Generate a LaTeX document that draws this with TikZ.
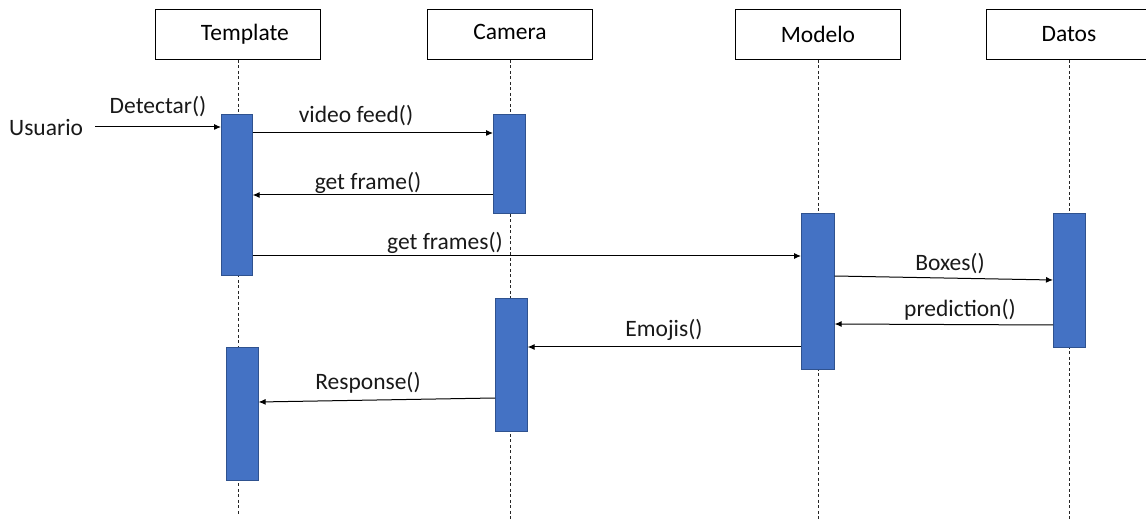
\documentclass[tikz,border=0pt]{standalone}
\usepackage{fontspec}
\setmainfont{Carlito}
\usetikzlibrary{arrows.meta}
\definecolor{barblue}{HTML}{4472C4}
\definecolor{barline}{HTML}{2F528F}
\definecolor{lineg}{HTML}{262626}
\begin{document}
\begin{tikzpicture}[x=1bp,y=-1bp,
  font=\fontsize{23.5bp}{28bp}\selectfont,
  head/.style={draw=black,line width=0.9bp,minimum width=165bp,minimum height=50bp,inner sep=0pt,anchor=north west},
  bar/.style={draw=barline,fill=barblue,line width=0.6bp,inner sep=0pt,anchor=north west},
  life/.style={draw=lineg,line width=0.9bp,dash pattern=on 3bp off 2.5bp},
  msg/.style={draw=black,line width=1bp,-{Latex[length=7bp,width=6bp]}},
  lbl/.style={inner sep=0pt,text=black!90}]
\useasboundingbox (0,0) rectangle (1146,521);
% headers
\node[head] (tpl) at (155,9) {\hspace{14bp}Template};
\node[head] (cam) at (427,9) {\raisebox{6bp}{Camera}};
\node[head] (mod) at (735,9) {Modelo};
\node[head] (dat) at (986,9) {Datos};
% lifeline ends
\coordinate (tplEnd) at (237,515);
\coordinate (camEnd) at (509,521);
\coordinate (modEnd) at (817,521);
\coordinate (datEnd) at (1069,521);
\draw[life] (tpl.south) -- (tpl.south |- tplEnd);
\draw[life] (cam.south) -- (cam.south |- camEnd);
\draw[life] (mod.south) -- (mod.south |- modEnd);
\draw[life] (dat.south) -- (dat.south |- datEnd);
% activation bars
\node[bar,minimum width=31bp,minimum height=161bp] (t1) at (221,114) {};
\node[bar,minimum width=32bp,minimum height=99bp] (c1) at (493,114) {};
\node[bar,minimum width=33bp,minimum height=156bp] (m1) at (801,213) {};
\node[bar,minimum width=32bp,minimum height=134bp] (d1) at (1053,213) {};
\node[bar,minimum width=32bp,minimum height=133bp] (c2) at (495,298) {};
\node[bar,minimum width=32bp,minimum height=133bp] (t2) at (226,347) {};
% user
\node[lbl,anchor=west] (usr) at (9,128) {Usuario};
\draw[msg] (95,127) coordinate (usrOut) -- (t1.west |- usrOut);
\node[lbl] at (158,107) {Detectar()};
% messages
\draw[msg] (t1.east |- 0,133) -- (c1.west |- 0,133);
\node[lbl] at (356,116) {video feed()};
\draw[msg] (c1.west |- 0,195) -- (t1.east |- 0,195);
\node[lbl] at (368,183) {get frame()};
\draw[msg] (t1.east |- 0,256) -- (m1.west |- 0,256);
\node[lbl] at (445,243) {get frames()};
\draw[msg] (m1.east |- 0,276) -- (d1.west |- 0,280);
\node[lbl] at (950,264) {Boxes()};
\draw[msg] (d1.west |- 0,325) -- (m1.east |- 0,324);
\node[lbl] at (960,310) {prediction()};
\draw[msg] (m1.west |- 0,347) -- (c2.east |- 0,347);
\node[lbl] at (664,330) {Emojis()};
\draw[msg] (c2.west |- 0,398) -- (t2.east |- 0,402);
\node[lbl] at (368,383) {Response()};
\end{tikzpicture}
\end{document}
